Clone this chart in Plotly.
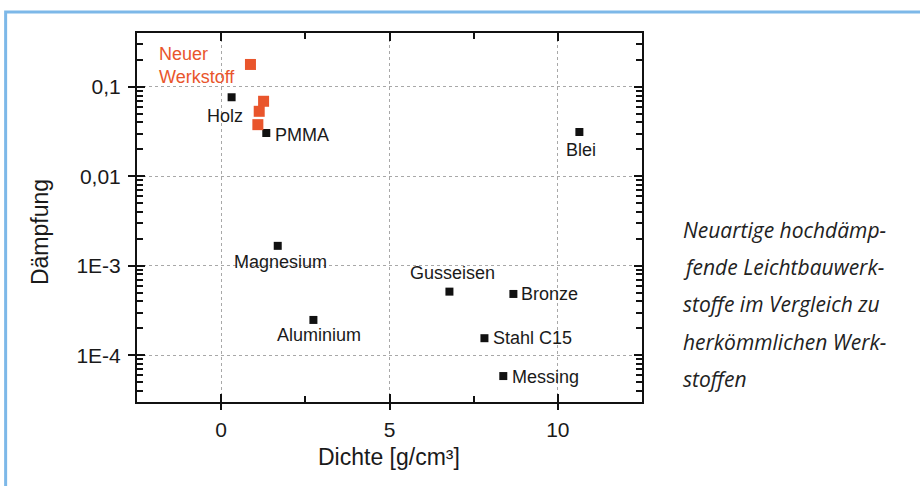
import math
import plotly.graph_objects as go

# ---------------- data ----------------
materials = ["Holz", "PMMA", "Magnesium", "Aluminium", "Gusseisen",
             "Bronze", "Stahl C15", "Messing", "Blei"]
density = [0.31, 1.34, 1.68, 2.74, 6.78, 8.68, 7.82, 8.38, 10.64]
damping = [0.0765, 0.0305, 0.00167, 2.48e-4, 5.14e-4, 4.84e-4, 1.55e-4, 5.85e-5, 0.0313]

new_label = "Neuer<br>Werkstoff"
new_density = [0.87, 1.26, 1.13, 1.09]
new_damping = [0.178, 0.069, 0.0533, 0.0378]

x_ticks = [0, 5, 10]
x_minor = [2.5, 7.5]
y_ticks = [0.1, 0.01, 1e-3, 1e-4]
y_ticktext = ["0,1", "0,01", "1E-3", "1E-4"]
y_minor = [m * 10.0 ** e for e in range(-5, 0) for m in range(2, 10)]

x_title = "Dichte [g/cm³]"
y_title = "Dämpfung"
caption = ["Neuartige hochdämp-", "fende Leichtbauwerk-", "stoffe im Vergleich zu",
           "herkömmlichen Werk-", "stoffen"]

# ---------------- styles ----------------
W, H = 920, 486
L, R, T, B = 137, 277.5, 33, 84
X_RANGE = [-2.5, 12.5]
Y_RANGE = [math.log10(3e-5), math.log10(0.4)]
ORANGE = "#E9552C"
FRAME = "#7DB8E8"
FONT = "Liberation Sans, Arial, sans-serif"
TICK = "#111111"

# label offsets (px) relative to markers: xshift, yshift, xanchor
label_style = {
    "Holz": (-7, -19, "center"),
    "PMMA": (7, -2, "left"),
    "Magnesium": (3, -16, "center"),
    "Aluminium": (6, -15, "center"),
    "Gusseisen": (3, 19, "center"),
    "Bronze": (6, 0, "left"),
    "Stahl C15": (7, 0, "left"),
    "Messing": (7, -1, "left"),
    "Blei": (2, -18, "center"),
}

pw = W - L - R
ph = H - T - B


def px_x(px):
    return (px - L) / pw


def px_y(py):
    return (H - B - py) / ph


fig = go.Figure()
fig.add_trace(go.Scatter(
    x=density, y=damping, mode="markers",
    marker=dict(symbol="square", size=8, color="#111111"),
    showlegend=False, hoverinfo="skip"))
fig.add_trace(go.Scatter(
    x=new_density, y=new_damping, mode="markers",
    marker=dict(symbol="square", size=11, color=ORANGE),
    showlegend=False, hoverinfo="skip"))
# invisible trace for overlay axes (outward part of the major ticks)
fig.add_trace(go.Scatter(x=density[:1], y=damping[:1], xaxis="x2", yaxis="y2",
                         mode="markers", marker=dict(opacity=0),
                         showlegend=False, hoverinfo="skip"))

annotations = []
for name, xv, yv in zip(materials, density, damping):
    dx, dy, anc = label_style[name]
    annotations.append(dict(
        x=xv, y=math.log10(yv), xref="x", yref="y", text=name, showarrow=False,
        xanchor=anc, yanchor="middle", xshift=dx, yshift=dy,
        font=dict(family=FONT, size=18, color="#1a1a1a")))
annotations.append(dict(
    x=new_density[0], y=math.log10(new_damping[0]), xref="x", yref="y",
    text=new_label, showarrow=False, xanchor="right", yanchor="middle", align="left",
    xshift=-13, yshift=-1, font=dict(family=FONT, size=18, color=ORANGE)))

annotations.append(dict(
    x=px_x(389), y=px_y(457), xref="paper", yref="paper", text=x_title,
    showarrow=False, xanchor="center", yanchor="middle",
    font=dict(family=FONT, size=23, color="#1a1a1a")))
annotations.append(dict(
    x=px_x(40), y=px_y(232), xref="paper", yref="paper", text=y_title,
    showarrow=False, textangle=-90, xanchor="center", yanchor="middle",
    font=dict(family=FONT, size=23, color="#1a1a1a")))

cap_y = [230, 267, 304, 341.5, 378.5]
for line, cy in zip(caption, cap_y):
    annotations.append(dict(
        x=px_x(682), y=px_y(cy), xref="paper", yref="paper",
        text="<i>" + line + "</i>", showarrow=False, xanchor="left", yanchor="middle",
        font=dict(family="Open Sans, sans-serif", size=21, color="#222222")))

frame_path = "M {x0} {y0} L {x0} {y1} L {x2} {y1}".format(
    x0=px_x(5.5), y0=px_y(495), y1=px_y(12), x2=px_x(930))
shapes = [dict(type="path", path=frame_path, xref="paper", yref="paper",
               line=dict(color=FRAME, width=3))]

fig.update_layout(
    width=W, height=H, autosize=False,
    margin=dict(l=L, r=R, t=T, b=B, pad=0),
    paper_bgcolor="white", plot_bgcolor="white",
    font=dict(family=FONT, color="#1a1a1a"),
    xaxis=dict(range=X_RANGE, tickmode="array", tickvals=x_ticks,
               ticks="inside", ticklen=8, tickwidth=2, tickcolor=TICK,
               mirror="allticks", showline=True, linecolor="#111111", linewidth=2,
               zeroline=False,
               showgrid=True, gridcolor="#a8a8a8", griddash="dot",
               gridwidth=1, tickfont=dict(size=21), ticklabelstandoff=8,
               minor=dict(tickmode="array", tickvals=x_minor, ticks="inside",
                          ticklen=6, tickwidth=2, tickcolor=TICK, showgrid=False)),
    yaxis=dict(type="log", range=Y_RANGE, tickmode="array", tickvals=y_ticks,
               ticktext=y_ticktext, ticks="inside", ticklen=8, tickwidth=2,
               tickcolor=TICK, mirror="allticks", showline=True, linecolor="#111111",
               linewidth=2, zeroline=False, showgrid=True,
               gridcolor="#a8a8a8", griddash="dot", gridwidth=1,
               tickfont=dict(size=21), ticklabelstandoff=10,
               minor=dict(tickmode="array", tickvals=y_minor, ticks="inside",
                          ticklen=6, tickwidth=1.5, tickcolor=TICK, showgrid=False)),
    xaxis2=dict(overlaying="x", anchor="y", side="bottom", range=X_RANGE,
                tickmode="array", tickvals=x_ticks, ticks="outside", ticklen=7,
                tickwidth=2, tickcolor=TICK, showline=False, zeroline=False,
                showticklabels=False, showgrid=False),
    yaxis2=dict(overlaying="y", anchor="x", side="left", type="log", range=Y_RANGE,
                tickmode="array", tickvals=y_ticks, ticks="outside", ticklen=8,
                tickwidth=2, tickcolor=TICK, showline=False, zeroline=False,
                showticklabels=False, showgrid=False),
    annotations=annotations,
    shapes=shapes,
)

fig.write_html("out.html", config={"displayModeBar": False},
               post_script="document.body.style.margin='0';document.body.style.padding='0';")
